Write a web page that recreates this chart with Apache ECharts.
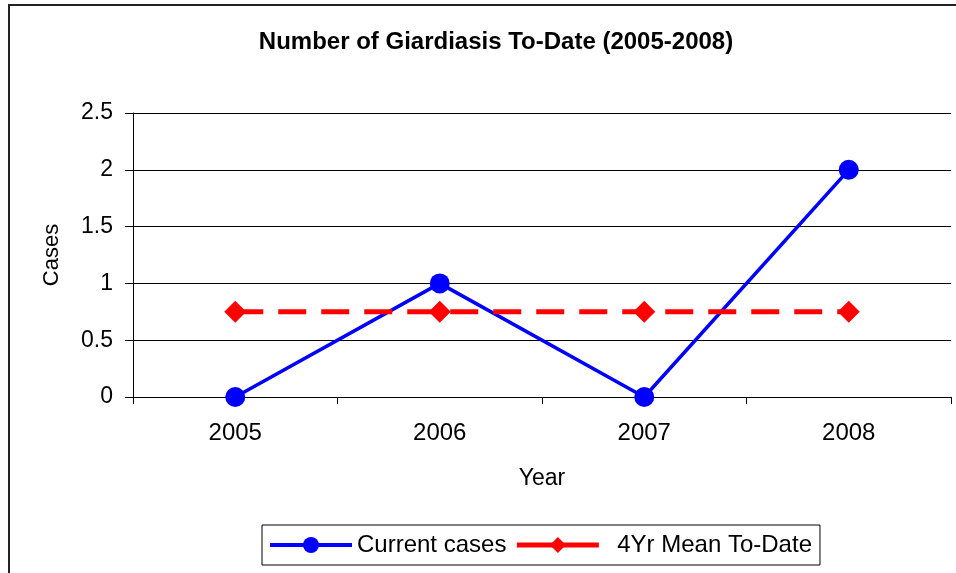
<!DOCTYPE html>
<html>
<head>
<meta charset="utf-8">
<script src="https://cdn.jsdelivr.net/npm/echarts@6/dist/echarts.min.js"></script>
<style>
html, body { margin: 0; padding: 0; background: #fff; }
#main { width: 956px; height: 573px; }
</style>
</head>
<body>
<div id="main"></div>
<script>
const years = ["2005", "2006", "2007", "2008"];
const currentCases = [0, 1, 0, 2];
const meanToDate = [0.75, 0.75, 0.75, 0.75];

const font = "'Liberation Sans', Arial, sans-serif";
const chart = echarts.init(document.getElementById("main"), null, { renderer: "canvas" });

const option = {
	animation: false,
	backgroundColor: "#fff",
	title: {
		text: "Number of Giardiasis To-Date (2005-2008)",
		left: 491,
		textAlign: "center",
		top: 25,
		textStyle: { fontFamily: font, fontSize: 24, fontWeight: "bold", color: "#000" },
	},
	grid: { left: 133, right: 5, top: 113, bottom: 176 },
	legend: {
		left: 262,
		top: 525,
		padding: [8, 8, 8, 6],
		borderColor: "#000",
		borderWidth: 1,
		itemWidth: 82,
		itemHeight: 20,
		itemGap: 8,
		textStyle: { fontFamily: font, fontSize: 24, color: "#000" },
		formatter: (name) => (name === "4Yr Mean To-Date" ? "  " + name : name),
		data: [
			{ name: "Current cases", lineStyle: { width: 4 } },
			{ name: "4Yr Mean To-Date", lineStyle: { width: 5, type: "solid" } },
		],
	},
	xAxis: {
		type: "category",
		data: years,
		boundaryGap: true,
		name: "Year",
		nameLocation: "middle",
		nameGap: 70,
		nameTextStyle: { fontFamily: font, fontSize: 23, color: "#000" },
		axisLine: { lineStyle: { color: "#000", width: 1 } },
		axisTick: { show: true, length: 7, lineStyle: { color: "#000" } },
		axisLabel: { fontFamily: font, fontSize: 24, color: "#000", margin: 24 },
	},
	yAxis: {
		type: "value",
		min: 0,
		max: 2.5,
		interval: 0.5,
		name: "Cases",
		nameLocation: "middle",
		nameGap: 70,
		nameTextStyle: { fontFamily: font, fontSize: 22, color: "#000" },
		axisLine: { show: true, lineStyle: { color: "#000", width: 1 } },
		axisTick: { show: true, length: 8, lineStyle: { color: "#000" } },
		axisLabel: { fontFamily: font, fontSize: 23, color: "#000", margin: 20 },
		splitLine: { lineStyle: { color: "#000", width: 1 } },
	},
	series: [
		{
			name: "Current cases",
			type: "line",
			data: currentCases,
			symbol: "circle",
			symbolSize: 20,
			color: "#0000ff",
			lineStyle: { color: "#0000ff", width: 3.5 },
			itemStyle: { color: "#0000ff" },
		},
		{
			name: "4Yr Mean To-Date",
			type: "line",
			data: meanToDate,
			symbol: "diamond",
			symbolSize: 22,
			color: "#ff0000",
			lineStyle: { color: "#ff0000", width: 5, type: [28, 15] },
			itemStyle: { color: "#ff0000" },
		},
	],
	graphic: [
		{
			type: "rect",
			shape: { x: 9, y: 5, width: 1000, height: 1000 },
			style: { fill: null, stroke: "#222", lineWidth: 2 },
			silent: true,
		},
	],
};

chart.setOption(option);
</script>
</body>
</html>
